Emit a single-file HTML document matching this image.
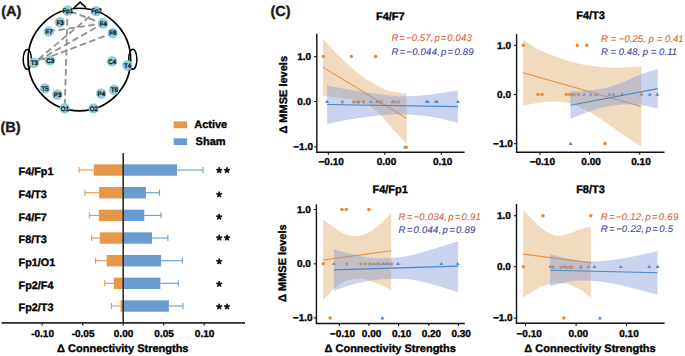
<!DOCTYPE html>
<html><head><meta charset="utf-8"><style>
html,body{margin:0;padding:0;background:#fff;width:685px;height:356px;overflow:hidden}
svg{display:block;font-family:"Liberation Sans", sans-serif;text-rendering:geometricPrecision}
</style></head><body>
<svg width="685" height="356" viewBox="0 0 685 356">
<rect width="685" height="356" fill="#fff"/>
<g>
<text x="1.20" y="15.60" font-size="14.6" font-weight="bold" font-style="normal" text-anchor="start" fill="#231815" stroke="#231815" stroke-width="0.35" >(A)</text>
<circle cx="79.35" cy="59.55" r="51.3" fill="none" stroke="#000" stroke-width="1.7"/>
<ellipse cx="27.3" cy="59.4" rx="4.1" ry="10" fill="none" stroke="#000" stroke-width="1.5"/>
<ellipse cx="132.8" cy="59.3" rx="4.1" ry="10" fill="none" stroke="#000" stroke-width="1.5"/>
<path d="M73.9 8.0 L80.1 2.1 L86.0 7.7" fill="none" stroke="#000" stroke-width="1.6" stroke-linejoin="miter"/>
<line x1="103.1" y1="23.5" x2="67.6" y2="10.5" stroke="#8f8f8f" stroke-width="1.8" stroke-dasharray="6.6,3.4" stroke-dashoffset="1.5"/>
<line x1="103.1" y1="23.5" x2="34.0" y2="62.8" stroke="#8f8f8f" stroke-width="1.8" stroke-dasharray="6.6,3.4" stroke-dashoffset="1.5"/>
<line x1="103.1" y1="23.5" x2="48.8" y2="31.4" stroke="#8f8f8f" stroke-width="1.8" stroke-dasharray="6.6,3.4" stroke-dashoffset="1.5"/>
<line x1="112.6" y1="33.1" x2="34.0" y2="62.8" stroke="#8f8f8f" stroke-width="1.8" stroke-dasharray="6.6,3.4" stroke-dashoffset="1.5"/>
<line x1="67.6" y1="10.5" x2="64.7" y2="108.2" stroke="#8f8f8f" stroke-width="1.8" stroke-dasharray="6.6,3.4" stroke-dashoffset="1.5"/>
<line x1="96.2" y1="11.1" x2="103.1" y2="23.5" stroke="#8f8f8f" stroke-width="1.8" stroke-dasharray="6.6,3.4" stroke-dashoffset="1.5"/>
<line x1="96.2" y1="11.1" x2="34.0" y2="62.8" stroke="#8f8f8f" stroke-width="1.8" stroke-dasharray="6.6,3.4" stroke-dashoffset="1.5"/>
<circle cx="67.6" cy="10.5" r="5.2" fill="#8FCDE0"/>
<text x="0.00" y="0.00" font-size="6.4" font-weight="normal" font-style="normal" text-anchor="middle" fill="#111" stroke="#111" stroke-width="0.35" transform="translate(67.90,12.80) scale(0.97,1)">Fp1</text>
<circle cx="96.2" cy="11.1" r="5.2" fill="#8FCDE0"/>
<text x="0.00" y="0.00" font-size="6.4" font-weight="normal" font-style="normal" text-anchor="middle" fill="#111" stroke="#111" stroke-width="0.35" transform="translate(96.50,13.40) scale(0.97,1)">Fp2</text>
<circle cx="59.9" cy="22.3" r="5.2" fill="#8FCDE0"/>
<text x="0.00" y="0.00" font-size="6.4" font-weight="normal" font-style="normal" text-anchor="middle" fill="#111" stroke="#111" stroke-width="0.35" transform="translate(60.20,24.60) scale(0.97,1)">F3</text>
<circle cx="103.1" cy="23.5" r="5.2" fill="#8FCDE0"/>
<text x="0.00" y="0.00" font-size="6.4" font-weight="normal" font-style="normal" text-anchor="middle" fill="#111" stroke="#111" stroke-width="0.35" transform="translate(103.40,25.80) scale(0.97,1)">F4</text>
<circle cx="48.8" cy="31.4" r="5.2" fill="#8FCDE0"/>
<text x="0.00" y="0.00" font-size="6.4" font-weight="normal" font-style="normal" text-anchor="middle" fill="#111" stroke="#111" stroke-width="0.35" transform="translate(49.10,33.70) scale(0.97,1)">F7</text>
<circle cx="112.6" cy="33.1" r="5.2" fill="#8FCDE0"/>
<text x="0.00" y="0.00" font-size="6.4" font-weight="normal" font-style="normal" text-anchor="middle" fill="#111" stroke="#111" stroke-width="0.35" transform="translate(112.90,35.40) scale(0.97,1)">F8</text>
<circle cx="34.0" cy="62.8" r="5.2" fill="#8FCDE0"/>
<text x="0.00" y="0.00" font-size="6.4" font-weight="normal" font-style="normal" text-anchor="middle" fill="#111" stroke="#111" stroke-width="0.35" transform="translate(34.30,65.10) scale(0.97,1)">T3</text>
<circle cx="49.9" cy="60.4" r="5.2" fill="#8FCDE0"/>
<text x="0.00" y="0.00" font-size="6.4" font-weight="normal" font-style="normal" text-anchor="middle" fill="#111" stroke="#111" stroke-width="0.35" transform="translate(50.20,62.70) scale(0.97,1)">C3</text>
<circle cx="112.0" cy="61.2" r="5.2" fill="#8FCDE0"/>
<text x="0.00" y="0.00" font-size="6.4" font-weight="normal" font-style="normal" text-anchor="middle" fill="#111" stroke="#111" stroke-width="0.35" transform="translate(112.30,63.50) scale(0.97,1)">C4</text>
<circle cx="127.3" cy="65.2" r="5.2" fill="#8FCDE0"/>
<text x="0.00" y="0.00" font-size="6.4" font-weight="normal" font-style="normal" text-anchor="middle" fill="#111" stroke="#111" stroke-width="0.35" transform="translate(127.60,67.50) scale(0.97,1)">T4</text>
<circle cx="44.8" cy="88.4" r="5.2" fill="#8FCDE0"/>
<text x="0.00" y="0.00" font-size="6.4" font-weight="normal" font-style="normal" text-anchor="middle" fill="#111" stroke="#111" stroke-width="0.35" transform="translate(45.10,90.70) scale(0.97,1)">T5</text>
<circle cx="57.3" cy="94.5" r="5.2" fill="#8FCDE0"/>
<text x="0.00" y="0.00" font-size="6.4" font-weight="normal" font-style="normal" text-anchor="middle" fill="#111" stroke="#111" stroke-width="0.35" transform="translate(57.60,96.80) scale(0.97,1)">P3</text>
<circle cx="101.1" cy="93.5" r="5.2" fill="#8FCDE0"/>
<text x="0.00" y="0.00" font-size="6.4" font-weight="normal" font-style="normal" text-anchor="middle" fill="#111" stroke="#111" stroke-width="0.35" transform="translate(101.40,95.80) scale(0.97,1)">P4</text>
<circle cx="114.0" cy="89.8" r="5.2" fill="#8FCDE0"/>
<text x="0.00" y="0.00" font-size="6.4" font-weight="normal" font-style="normal" text-anchor="middle" fill="#111" stroke="#111" stroke-width="0.35" transform="translate(114.30,92.10) scale(0.97,1)">T6</text>
<circle cx="64.7" cy="108.2" r="5.2" fill="#8FCDE0"/>
<text x="0.00" y="0.00" font-size="6.4" font-weight="normal" font-style="normal" text-anchor="middle" fill="#111" stroke="#111" stroke-width="0.35" transform="translate(65.00,110.50) scale(0.97,1)">O1</text>
<circle cx="93.5" cy="108.4" r="5.2" fill="#8FCDE0"/>
<text x="0.00" y="0.00" font-size="6.4" font-weight="normal" font-style="normal" text-anchor="middle" fill="#111" stroke="#111" stroke-width="0.35" transform="translate(93.80,110.70) scale(0.97,1)">O2</text>
</g>
<g>
<text x="0.40" y="131.90" font-size="14.6" font-weight="bold" font-style="normal" text-anchor="start" fill="#231815" stroke="#231815" stroke-width="0.35" >(B)</text>
<rect x="173.7" y="121.4" width="13.4" height="6.8" fill="#E5974A"/>
<rect x="173.7" y="138.3" width="13.4" height="6.8" fill="#6A9BD1"/>
<text x="194.20" y="128.20" font-size="11" font-weight="bold" font-style="normal" text-anchor="start" fill="#000" stroke="#000" stroke-width="0.35" >Active</text>
<text x="195.60" y="145.00" font-size="11" font-weight="bold" font-style="normal" text-anchor="start" fill="#000" stroke="#000" stroke-width="0.35" >Sham</text>
<line x1="79.1" y1="170.05" x2="93.7" y2="170.05" stroke="#E5974A" stroke-width="1.1"/>
<line x1="79.1" y1="167.05" x2="79.1" y2="173.05" stroke="#E5974A" stroke-width="1.1"/>
<line x1="177.0" y1="170.05" x2="203.0" y2="170.05" stroke="#6A9BD1" stroke-width="1.1"/>
<line x1="203.0" y1="167.05" x2="203.0" y2="173.05" stroke="#6A9BD1" stroke-width="1.1"/>
<rect x="93.7" y="164.35000000000002" width="29.5" height="11.4" fill="#E5974A"/>
<rect x="123.2" y="164.35000000000002" width="53.8" height="11.4" fill="#6A9BD1"/>
<text x="18.60" y="175.20" font-size="10.8" font-weight="bold" font-style="normal" text-anchor="start" fill="#000" stroke="#000" stroke-width="0.35" >F4/Fp1</text>
<path d="M219.20 170.30 L219.20 167.95 M219.20 170.30 L221.43 169.57 M219.20 170.30 L220.58 172.20 M219.20 170.30 L217.82 172.20 M219.20 170.30 L216.97 169.57 " stroke="#111" stroke-width="1.75" stroke-linecap="round" fill="none"/>
<path d="M227.00 170.30 L227.00 167.95 M227.00 170.30 L229.23 169.57 M227.00 170.30 L228.38 172.20 M227.00 170.30 L225.62 172.20 M227.00 170.30 L224.77 169.57 " stroke="#111" stroke-width="1.75" stroke-linecap="round" fill="none"/>
<line x1="85.0" y1="192.71" x2="99.1" y2="192.71" stroke="#E5974A" stroke-width="1.1"/>
<line x1="85.0" y1="189.71" x2="85.0" y2="195.71" stroke="#E5974A" stroke-width="1.1"/>
<line x1="146.0" y1="192.71" x2="159.5" y2="192.71" stroke="#6A9BD1" stroke-width="1.1"/>
<line x1="159.5" y1="189.71" x2="159.5" y2="195.71" stroke="#6A9BD1" stroke-width="1.1"/>
<rect x="99.1" y="187.01000000000002" width="24.10000000000001" height="11.4" fill="#E5974A"/>
<rect x="123.2" y="187.01000000000002" width="22.799999999999997" height="11.4" fill="#6A9BD1"/>
<text x="18.60" y="197.86" font-size="10.8" font-weight="bold" font-style="normal" text-anchor="start" fill="#000" stroke="#000" stroke-width="0.35" >F4/T3</text>
<path d="M219.20 194.50 L219.20 192.15 M219.20 194.50 L221.43 193.77 M219.20 194.50 L220.58 196.40 M219.20 194.50 L217.82 196.40 M219.20 194.50 L216.97 193.77 " stroke="#111" stroke-width="1.75" stroke-linecap="round" fill="none"/>
<line x1="89.3" y1="215.37" x2="98.9" y2="215.37" stroke="#E5974A" stroke-width="1.1"/>
<line x1="89.3" y1="212.37" x2="89.3" y2="218.37" stroke="#E5974A" stroke-width="1.1"/>
<line x1="144.3" y1="215.37" x2="161.1" y2="215.37" stroke="#6A9BD1" stroke-width="1.1"/>
<line x1="161.1" y1="212.37" x2="161.1" y2="218.37" stroke="#6A9BD1" stroke-width="1.1"/>
<rect x="98.9" y="209.67000000000002" width="24.299999999999997" height="11.4" fill="#E5974A"/>
<rect x="123.2" y="209.67000000000002" width="21.10000000000001" height="11.4" fill="#6A9BD1"/>
<text x="18.60" y="220.52" font-size="10.8" font-weight="bold" font-style="normal" text-anchor="start" fill="#000" stroke="#000" stroke-width="0.35" >F4/F7</text>
<path d="M219.20 216.90 L219.20 214.55 M219.20 216.90 L221.43 216.17 M219.20 216.90 L220.58 218.80 M219.20 216.90 L217.82 218.80 M219.20 216.90 L216.97 216.17 " stroke="#111" stroke-width="1.75" stroke-linecap="round" fill="none"/>
<line x1="91.6" y1="238.03000000000003" x2="99.7" y2="238.03000000000003" stroke="#E5974A" stroke-width="1.1"/>
<line x1="91.6" y1="235.03000000000003" x2="91.6" y2="241.03000000000003" stroke="#E5974A" stroke-width="1.1"/>
<line x1="152.0" y1="238.03000000000003" x2="167.9" y2="238.03000000000003" stroke="#6A9BD1" stroke-width="1.1"/>
<line x1="167.9" y1="235.03000000000003" x2="167.9" y2="241.03000000000003" stroke="#6A9BD1" stroke-width="1.1"/>
<rect x="99.7" y="232.33000000000004" width="23.5" height="11.4" fill="#E5974A"/>
<rect x="123.2" y="232.33000000000004" width="28.799999999999997" height="11.4" fill="#6A9BD1"/>
<text x="18.60" y="243.18" font-size="10.8" font-weight="bold" font-style="normal" text-anchor="start" fill="#000" stroke="#000" stroke-width="0.35" >F8/T3</text>
<path d="M219.20 237.80 L219.20 235.45 M219.20 237.80 L221.43 237.07 M219.20 237.80 L220.58 239.70 M219.20 237.80 L217.82 239.70 M219.20 237.80 L216.97 237.07 " stroke="#111" stroke-width="1.75" stroke-linecap="round" fill="none"/>
<path d="M227.00 237.80 L227.00 235.45 M227.00 237.80 L229.23 237.07 M227.00 237.80 L228.38 239.70 M227.00 237.80 L225.62 239.70 M227.00 237.80 L224.77 237.07 " stroke="#111" stroke-width="1.75" stroke-linecap="round" fill="none"/>
<line x1="95.5" y1="260.69" x2="106.7" y2="260.69" stroke="#E5974A" stroke-width="1.1"/>
<line x1="95.5" y1="257.69" x2="95.5" y2="263.69" stroke="#E5974A" stroke-width="1.1"/>
<line x1="161.1" y1="260.69" x2="182.4" y2="260.69" stroke="#6A9BD1" stroke-width="1.1"/>
<line x1="182.4" y1="257.69" x2="182.4" y2="263.69" stroke="#6A9BD1" stroke-width="1.1"/>
<rect x="106.7" y="254.99" width="16.5" height="11.4" fill="#E5974A"/>
<rect x="123.2" y="254.99" width="37.89999999999999" height="11.4" fill="#6A9BD1"/>
<text x="18.60" y="265.84" font-size="10.8" font-weight="bold" font-style="normal" text-anchor="start" fill="#000" stroke="#000" stroke-width="0.35" >Fp1/O1</text>
<path d="M219.20 261.50 L219.20 259.15 M219.20 261.50 L221.43 260.77 M219.20 261.50 L220.58 263.40 M219.20 261.50 L217.82 263.40 M219.20 261.50 L216.97 260.77 " stroke="#111" stroke-width="1.75" stroke-linecap="round" fill="none"/>
<line x1="104.8" y1="283.35" x2="113.8" y2="283.35" stroke="#E5974A" stroke-width="1.1"/>
<line x1="104.8" y1="280.35" x2="104.8" y2="286.35" stroke="#E5974A" stroke-width="1.1"/>
<line x1="160.4" y1="283.35" x2="178.3" y2="283.35" stroke="#6A9BD1" stroke-width="1.1"/>
<line x1="178.3" y1="280.35" x2="178.3" y2="286.35" stroke="#6A9BD1" stroke-width="1.1"/>
<rect x="113.8" y="277.65000000000003" width="9.400000000000006" height="11.4" fill="#E5974A"/>
<rect x="123.2" y="277.65000000000003" width="37.2" height="11.4" fill="#6A9BD1"/>
<text x="18.60" y="288.50" font-size="10.8" font-weight="bold" font-style="normal" text-anchor="start" fill="#000" stroke="#000" stroke-width="0.35" >Fp2/F4</text>
<path d="M219.20 284.10 L219.20 281.75 M219.20 284.10 L221.43 283.37 M219.20 284.10 L220.58 286.00 M219.20 284.10 L217.82 286.00 M219.20 284.10 L216.97 283.37 " stroke="#111" stroke-width="1.75" stroke-linecap="round" fill="none"/>
<line x1="111.5" y1="306.01" x2="120.5" y2="306.01" stroke="#E5974A" stroke-width="1.1"/>
<line x1="111.5" y1="303.01" x2="111.5" y2="309.01" stroke="#E5974A" stroke-width="1.1"/>
<line x1="168.9" y1="306.01" x2="183.0" y2="306.01" stroke="#6A9BD1" stroke-width="1.1"/>
<line x1="183.0" y1="303.01" x2="183.0" y2="309.01" stroke="#6A9BD1" stroke-width="1.1"/>
<rect x="120.5" y="300.31" width="2.700000000000003" height="11.4" fill="#E5974A"/>
<rect x="123.2" y="300.31" width="45.7" height="11.4" fill="#6A9BD1"/>
<text x="18.60" y="311.16" font-size="10.8" font-weight="bold" font-style="normal" text-anchor="start" fill="#000" stroke="#000" stroke-width="0.35" >Fp2/T3</text>
<path d="M219.20 306.70 L219.20 304.35 M219.20 306.70 L221.43 305.97 M219.20 306.70 L220.58 308.60 M219.20 306.70 L217.82 308.60 M219.20 306.70 L216.97 305.97 " stroke="#111" stroke-width="1.75" stroke-linecap="round" fill="none"/>
<path d="M227.00 306.70 L227.00 304.35 M227.00 306.70 L229.23 305.97 M227.00 306.70 L228.38 308.60 M227.00 306.70 L225.62 308.60 M227.00 306.70 L224.77 305.97 " stroke="#111" stroke-width="1.75" stroke-linecap="round" fill="none"/>
<line x1="123.2" y1="153" x2="123.2" y2="322.9" stroke="#222" stroke-width="1.5"/>
<line x1="1.5" y1="322.9" x2="245" y2="322.9" stroke="#2a2a2a" stroke-width="1.6"/>
<line x1="42.20" y1="322.9" x2="42.20" y2="325.6" stroke="#222" stroke-width="1.2"/>
<text x="42.60" y="336.90" font-size="10" font-weight="bold" font-style="normal" text-anchor="middle" fill="#000" stroke="#000" stroke-width="0.35" >-0.10</text>
<line x1="82.70" y1="322.9" x2="82.70" y2="325.6" stroke="#222" stroke-width="1.2"/>
<text x="83.10" y="336.90" font-size="10" font-weight="bold" font-style="normal" text-anchor="middle" fill="#000" stroke="#000" stroke-width="0.35" >-0.05</text>
<line x1="123.20" y1="322.9" x2="123.20" y2="325.6" stroke="#222" stroke-width="1.2"/>
<text x="123.60" y="336.90" font-size="10" font-weight="bold" font-style="normal" text-anchor="middle" fill="#000" stroke="#000" stroke-width="0.35" >0.00</text>
<line x1="163.70" y1="322.9" x2="163.70" y2="325.6" stroke="#222" stroke-width="1.2"/>
<text x="164.10" y="336.90" font-size="10" font-weight="bold" font-style="normal" text-anchor="middle" fill="#000" stroke="#000" stroke-width="0.35" >0.05</text>
<line x1="204.20" y1="322.9" x2="204.20" y2="325.6" stroke="#222" stroke-width="1.2"/>
<text x="204.60" y="336.90" font-size="10" font-weight="bold" font-style="normal" text-anchor="middle" fill="#000" stroke="#000" stroke-width="0.35" >0.10</text>
<text x="122.80" y="352.20" font-size="11" font-weight="bold" font-style="normal" text-anchor="middle" fill="#000" stroke="#000" stroke-width="0.35" >&#916; Connectivity Strengths</text>
</g>
<text x="270.40" y="15.60" font-size="14.6" font-weight="bold" font-style="normal" text-anchor="start" fill="#231815" stroke="#231815" stroke-width="0.35" >(C)</text>
<g>
<text x="390.30" y="19.50" font-size="11" font-weight="bold" font-style="normal" text-anchor="middle" fill="#000" stroke="#000" stroke-width="0.35" >F4/F7</text>
<path d="M327.10 99.70 L329.10 103.00 L325.10 103.00 Z" fill="#4A86C8"/>
<path d="M371.00 99.70 L373.00 103.00 L369.00 103.00 Z" fill="#4A86C8"/>
<path d="M376.80 99.70 L378.80 103.00 L374.80 103.00 Z" fill="#4A86C8"/>
<path d="M392.50 99.70 L394.50 103.00 L390.50 103.00 Z" fill="#4A86C8"/>
<path d="M426.60 99.70 L428.60 103.00 L424.60 103.00 Z" fill="#4A86C8"/>
<path d="M427.90 99.70 L429.90 103.00 L425.90 103.00 Z" fill="#4A86C8"/>
<path d="M435.80 99.70 L437.80 103.00 L433.80 103.00 Z" fill="#4A86C8"/>
<path d="M436.90 99.70 L438.90 103.00 L434.90 103.00 Z" fill="#4A86C8"/>
<path d="M457.90 99.70 L459.90 103.00 L455.90 103.00 Z" fill="#4A86C8"/>
<path d="M405.00 145.10 L407.00 148.40 L403.00 148.40 Z" fill="#4A86C8"/>
<circle cx="323.40" cy="56.60" r="1.75" fill="#E8892E"/>
<circle cx="351.30" cy="56.60" r="1.75" fill="#E8892E"/>
<circle cx="375.60" cy="56.60" r="1.75" fill="#E8892E"/>
<circle cx="342.40" cy="102.00" r="1.75" fill="#E8892E"/>
<circle cx="353.70" cy="102.00" r="1.75" fill="#E8892E"/>
<circle cx="357.20" cy="102.00" r="1.75" fill="#E8892E"/>
<circle cx="358.80" cy="102.00" r="1.75" fill="#E8892E"/>
<circle cx="363.50" cy="102.00" r="1.75" fill="#E8892E"/>
<circle cx="379.80" cy="102.00" r="1.75" fill="#E8892E"/>
<circle cx="381.30" cy="102.00" r="1.75" fill="#E8892E"/>
<circle cx="395.00" cy="102.00" r="1.75" fill="#E8892E"/>
<circle cx="398.60" cy="102.00" r="1.75" fill="#E8892E"/>
<circle cx="406.30" cy="147.20" r="1.75" fill="#E8892E"/>
<path d="M323.00 39.00 C324.37 40.48 328.17 44.77 331.20 47.90 C334.23 51.03 337.88 54.60 341.20 57.80 C344.52 61.00 347.80 64.17 351.10 67.10 C354.40 70.03 357.68 72.92 361.00 75.40 C364.32 77.88 367.68 79.97 371.00 82.00 C374.32 84.03 377.60 86.05 380.90 87.60 C384.20 89.15 386.52 90.30 390.80 91.30 C395.08 92.30 403.97 93.22 406.60 93.60 L406.60 144.20 C404.93 142.38 399.43 136.43 396.60 133.30 C393.77 130.17 391.63 127.73 389.60 125.40 C387.57 123.07 386.13 121.18 384.40 119.30 C382.67 117.42 381.23 115.98 379.20 114.10 C377.17 112.22 374.82 109.73 372.20 108.00 C369.58 106.27 366.40 105.00 363.50 103.70 C360.60 102.40 359.15 101.22 354.80 100.20 C350.45 99.18 342.70 98.33 337.40 97.60 C332.10 96.87 325.40 96.10 323.00 95.80 Z" fill="#D9A45C" fill-opacity="0.40"/>
<line x1="323" y1="67.1" x2="406.6" y2="118.4" stroke="#E38E40" stroke-width="1.1"/>
<path d="M327.10 85.50 C331.37 86.28 343.33 88.67 352.70 90.20 C362.07 91.73 374.12 93.68 383.30 94.70 C392.48 95.72 399.28 96.43 407.80 96.30 C416.32 96.17 426.05 94.85 434.40 93.90 C442.75 92.95 453.98 91.15 457.90 90.60 L457.90 122.90 C453.98 121.97 442.75 118.70 434.40 117.30 C426.05 115.90 416.32 114.88 407.80 114.50 C399.28 114.12 392.48 114.25 383.30 115.00 C374.12 115.75 362.07 117.52 352.70 119.00 C343.33 120.48 331.37 123.08 327.10 123.90 Z" fill="#7B93D8" fill-opacity="0.40"/>
<line x1="327.1" y1="104.5" x2="457.9" y2="106.6" stroke="#4A86C8" stroke-width="1.1"/>
<line x1="316.8" y1="33.8" x2="316.8" y2="152.2" stroke="#111" stroke-width="1.4"/>
<line x1="316.1" y1="152.2" x2="464.6" y2="152.2" stroke="#111" stroke-width="1.4"/>
<line x1="314.2" y1="56.6" x2="316.8" y2="56.6" stroke="#111" stroke-width="1.1"/>
<text x="311.20" y="59.90" font-size="10" font-weight="bold" font-style="normal" text-anchor="end" fill="#000" stroke="#000" stroke-width="0.35" >1.0</text>
<line x1="314.2" y1="101.5" x2="316.8" y2="101.5" stroke="#111" stroke-width="1.1"/>
<text x="311.20" y="104.80" font-size="10" font-weight="bold" font-style="normal" text-anchor="end" fill="#000" stroke="#000" stroke-width="0.35" >0.0</text>
<line x1="314.2" y1="146.8" x2="316.8" y2="146.8" stroke="#111" stroke-width="1.1"/>
<text x="313.00" y="150.10" font-size="10" font-weight="bold" font-style="normal" text-anchor="end" fill="#000" stroke="#000" stroke-width="0.35" >&#8722;1.0</text>
<line x1="328.4" y1="152.2" x2="328.4" y2="154.79999999999998" stroke="#111" stroke-width="1.1"/>
<text x="331.20" y="165.40" font-size="10" font-weight="bold" font-style="normal" text-anchor="middle" fill="#000" stroke="#000" stroke-width="0.35" >&#8722;0.10</text>
<line x1="384.8" y1="152.2" x2="384.8" y2="154.79999999999998" stroke="#111" stroke-width="1.1"/>
<text x="386.50" y="165.40" font-size="10" font-weight="bold" font-style="normal" text-anchor="middle" fill="#000" stroke="#000" stroke-width="0.35" >0.00</text>
<line x1="441.4" y1="152.2" x2="441.4" y2="154.79999999999998" stroke="#111" stroke-width="1.1"/>
<text x="442.70" y="165.40" font-size="10" font-weight="bold" font-style="normal" text-anchor="middle" fill="#000" stroke="#000" stroke-width="0.35" >0.10</text>
<text x="391.40" y="41.30" font-size="9.6" font-weight="normal" font-style="italic" text-anchor="start" fill="#E05A2E" stroke="#E05A2E" stroke-width="0.08" textLength="80.4" lengthAdjust="spacing">R&#8202;=&#8202;&#8722;0.57,&#8202;p&#8202;=&#8202;0.043</text>
<text x="391.40" y="54.60" font-size="9.6" font-weight="normal" font-style="italic" text-anchor="start" fill="#40409E" stroke="#40409E" stroke-width="0.08" textLength="82.3" lengthAdjust="spacing">R&#8202;=&#8202;&#8722;0.044,&#8202;p&#8202;=&#8202;0.89</text>
</g>
<g>
<text x="590.60" y="19.30" font-size="11" font-weight="bold" font-style="normal" text-anchor="middle" fill="#000" stroke="#000" stroke-width="0.35" >F4/T3</text>
<path d="M572.30 92.50 L574.30 95.80 L570.30 95.80 Z" fill="#4A86C8"/>
<path d="M584.10 92.50 L586.10 95.80 L582.10 95.80 Z" fill="#4A86C8"/>
<path d="M590.80 92.50 L592.80 95.80 L588.80 95.80 Z" fill="#4A86C8"/>
<path d="M595.90 92.50 L597.90 95.80 L593.90 95.80 Z" fill="#4A86C8"/>
<path d="M609.40 92.50 L611.40 95.80 L607.40 95.80 Z" fill="#4A86C8"/>
<path d="M613.40 92.50 L615.40 95.80 L611.40 95.80 Z" fill="#4A86C8"/>
<path d="M622.20 92.50 L624.20 95.80 L620.20 95.80 Z" fill="#4A86C8"/>
<path d="M649.80 92.50 L651.80 95.80 L647.80 95.80 Z" fill="#4A86C8"/>
<path d="M657.20 92.50 L659.20 95.80 L655.20 95.80 Z" fill="#4A86C8"/>
<path d="M570.60 141.70 L572.60 145.00 L568.60 145.00 Z" fill="#4A86C8"/>
<circle cx="523.40" cy="45.30" r="1.75" fill="#E8892E"/>
<circle cx="577.40" cy="45.30" r="1.75" fill="#E8892E"/>
<circle cx="586.80" cy="45.30" r="1.75" fill="#E8892E"/>
<circle cx="537.90" cy="94.60" r="1.75" fill="#E8892E"/>
<circle cx="542.00" cy="94.60" r="1.75" fill="#E8892E"/>
<circle cx="566.20" cy="94.60" r="1.75" fill="#E8892E"/>
<circle cx="569.60" cy="94.60" r="1.75" fill="#E8892E"/>
<circle cx="574.00" cy="94.60" r="1.75" fill="#E8892E"/>
<circle cx="578.40" cy="94.60" r="1.75" fill="#E8892E"/>
<circle cx="596.90" cy="94.60" r="1.75" fill="#E8892E"/>
<circle cx="641.40" cy="94.60" r="1.75" fill="#E8892E"/>
<circle cx="605.00" cy="143.60" r="1.75" fill="#E8892E"/>
<path d="M523.10 39.70 C525.62 41.28 533.43 46.67 538.20 49.20 C542.97 51.73 546.65 52.95 551.70 54.90 C556.75 56.85 562.88 59.22 568.50 60.90 C574.12 62.58 579.78 63.98 585.40 65.00 C591.02 66.02 596.60 66.55 602.20 67.00 C607.80 67.45 612.48 67.77 619.00 67.70 C625.52 67.63 637.58 66.78 641.30 66.60 L641.30 146.80 C637.58 144.28 625.52 136.18 619.00 131.70 C612.48 127.22 607.80 123.55 602.20 119.90 C596.60 116.25 591.02 112.62 585.40 109.80 C579.78 106.98 574.12 104.40 568.50 103.00 C562.88 101.60 556.75 101.40 551.70 101.40 C546.65 101.40 542.97 102.33 538.20 103.00 C533.43 103.67 525.62 105.00 523.10 105.40 Z" fill="#D9A45C" fill-opacity="0.40"/>
<line x1="523.1" y1="72.7" x2="641.3" y2="106.5" stroke="#E38E40" stroke-width="1.1"/>
<path d="M570.50 91.40 C572.62 91.33 578.03 91.43 583.20 91.00 C588.37 90.57 595.42 90.02 601.50 88.80 C607.58 87.58 613.62 85.92 619.70 83.70 C625.78 81.48 631.67 77.98 638.00 75.50 C644.33 73.02 654.42 69.92 657.70 68.80 L657.70 108.40 C654.42 107.78 644.33 105.32 638.00 104.70 C631.67 104.08 625.78 104.18 619.70 104.70 C613.62 105.22 607.58 106.28 601.50 107.80 C595.42 109.32 588.37 111.97 583.20 113.80 C578.03 115.63 572.62 117.97 570.50 118.80 Z" fill="#7B93D8" fill-opacity="0.40"/>
<line x1="570.5" y1="105.3" x2="657.7" y2="88.6" stroke="#4A86C8" stroke-width="1.1"/>
<line x1="516.6" y1="34.2" x2="516.6" y2="152.2" stroke="#111" stroke-width="1.4"/>
<line x1="515.9" y1="152.2" x2="664.5" y2="152.2" stroke="#111" stroke-width="1.4"/>
<line x1="514.0" y1="45.3" x2="516.6" y2="45.3" stroke="#111" stroke-width="1.1"/>
<text x="511.00" y="48.60" font-size="10" font-weight="bold" font-style="normal" text-anchor="end" fill="#000" stroke="#000" stroke-width="0.35" >1.0</text>
<line x1="514.0" y1="94.5" x2="516.6" y2="94.5" stroke="#111" stroke-width="1.1"/>
<text x="511.00" y="97.80" font-size="10" font-weight="bold" font-style="normal" text-anchor="end" fill="#000" stroke="#000" stroke-width="0.35" >0.0</text>
<line x1="514.0" y1="143.7" x2="516.6" y2="143.7" stroke="#111" stroke-width="1.1"/>
<text x="512.80" y="147.00" font-size="10" font-weight="bold" font-style="normal" text-anchor="end" fill="#000" stroke="#000" stroke-width="0.35" >&#8722;1.0</text>
<line x1="540.0" y1="152.2" x2="540.0" y2="154.79999999999998" stroke="#111" stroke-width="1.1"/>
<text x="542.30" y="165.40" font-size="10" font-weight="bold" font-style="normal" text-anchor="middle" fill="#000" stroke="#000" stroke-width="0.35" >&#8722;0.10</text>
<line x1="589.6" y1="152.2" x2="589.6" y2="154.79999999999998" stroke="#111" stroke-width="1.1"/>
<text x="591.10" y="165.40" font-size="10" font-weight="bold" font-style="normal" text-anchor="middle" fill="#000" stroke="#000" stroke-width="0.35" >0.00</text>
<line x1="639.7" y1="152.2" x2="639.7" y2="154.79999999999998" stroke="#111" stroke-width="1.1"/>
<text x="641.00" y="165.40" font-size="10" font-weight="bold" font-style="normal" text-anchor="middle" fill="#000" stroke="#000" stroke-width="0.35" >0.10</text>
<text x="600.90" y="42.10" font-size="9.6" font-weight="normal" font-style="italic" text-anchor="start" fill="#E05A2E" stroke="#E05A2E" stroke-width="0.08" textLength="82.8" lengthAdjust="spacing">R = &#8722;0.25, p = 0.41</text>
<text x="600.90" y="54.60" font-size="9.6" font-weight="normal" font-style="italic" text-anchor="start" fill="#40409E" stroke="#40409E" stroke-width="0.08" textLength="76.2" lengthAdjust="spacing">R = 0.48, p = 0.11</text>
</g>
<g>
<text x="390.20" y="192.80" font-size="11" font-weight="bold" font-style="normal" text-anchor="middle" fill="#000" stroke="#000" stroke-width="0.35" >F4/Fp1</text>
<path d="M333.90 261.70 L335.90 265.00 L331.90 265.00 Z" fill="#4A86C8"/>
<path d="M373.40 261.70 L375.40 265.00 L371.40 265.00 Z" fill="#4A86C8"/>
<path d="M379.30 261.70 L381.30 265.00 L377.30 265.00 Z" fill="#4A86C8"/>
<path d="M383.20 261.70 L385.20 265.00 L381.20 265.00 Z" fill="#4A86C8"/>
<path d="M385.80 261.70 L387.80 265.00 L383.80 265.00 Z" fill="#4A86C8"/>
<path d="M388.30 261.70 L390.30 265.00 L386.30 265.00 Z" fill="#4A86C8"/>
<path d="M398.00 261.70 L400.00 265.00 L396.00 265.00 Z" fill="#4A86C8"/>
<path d="M441.40 261.70 L443.40 265.00 L439.40 265.00 Z" fill="#4A86C8"/>
<path d="M457.70 261.70 L459.70 265.00 L455.70 265.00 Z" fill="#4A86C8"/>
<path d="M382.40 316.10 L384.40 319.40 L380.40 319.40 Z" fill="#4A86C8"/>
<circle cx="323.40" cy="263.80" r="1.75" fill="#E8892E"/>
<circle cx="346.80" cy="264.00" r="1.75" fill="#E8892E"/>
<circle cx="361.10" cy="264.00" r="1.75" fill="#E8892E"/>
<circle cx="365.50" cy="264.00" r="1.75" fill="#E8892E"/>
<circle cx="369.80" cy="264.00" r="1.75" fill="#E8892E"/>
<circle cx="376.90" cy="264.00" r="1.75" fill="#E8892E"/>
<circle cx="391.50" cy="264.00" r="1.75" fill="#E8892E"/>
<circle cx="342.00" cy="209.40" r="1.75" fill="#E8892E"/>
<circle cx="346.30" cy="209.40" r="1.75" fill="#E8892E"/>
<circle cx="368.90" cy="209.40" r="1.75" fill="#E8892E"/>
<circle cx="330.20" cy="318.00" r="1.75" fill="#E8892E"/>
<path d="M323.10 219.60 C324.58 220.67 329.10 223.98 332.00 226.00 C334.90 228.02 337.68 230.15 340.50 231.70 C343.32 233.25 346.33 234.55 348.90 235.30 C351.47 236.05 353.33 236.33 355.90 236.20 C358.47 236.07 361.27 235.72 364.30 234.50 C367.33 233.28 370.82 231.25 374.10 228.90 C377.38 226.55 381.15 223.07 384.00 220.40 C386.85 217.73 390.00 214.15 391.20 212.90 L391.20 290.20 C390.00 289.57 386.85 287.73 384.00 286.40 C381.15 285.07 377.15 283.37 374.10 282.20 C371.05 281.03 368.50 280.02 365.70 279.40 C362.90 278.78 360.10 278.37 357.30 278.50 C354.50 278.63 351.70 279.35 348.90 280.20 C346.10 281.05 343.32 281.87 340.50 283.60 C337.68 285.33 334.90 287.80 332.00 290.60 C329.10 293.40 324.58 298.77 323.10 300.40 Z" fill="#D9A45C" fill-opacity="0.40"/>
<line x1="323.1" y1="260" x2="391.2" y2="250.8" stroke="#E38E40" stroke-width="1.1"/>
<path d="M333.90 249.20 C336.53 249.95 343.78 252.28 349.70 253.70 C355.62 255.12 362.83 256.93 369.40 257.70 C375.97 258.47 382.53 258.63 389.10 258.30 C395.67 257.97 402.23 257.02 408.80 255.70 C415.37 254.38 420.28 252.80 428.50 250.40 C436.72 248.00 453.17 242.82 458.10 241.30 L458.10 292.20 C453.17 290.72 436.72 285.45 428.50 283.30 C420.28 281.15 415.37 280.05 408.80 279.30 C402.23 278.55 395.67 278.57 389.10 278.80 C382.53 279.03 375.97 279.62 369.40 280.70 C362.83 281.78 355.62 283.55 349.70 285.30 C343.78 287.05 336.53 290.22 333.90 291.20 Z" fill="#7B93D8" fill-opacity="0.40"/>
<line x1="333.9" y1="269.9" x2="458.1" y2="266.1" stroke="#4A86C8" stroke-width="1.1"/>
<line x1="316.4" y1="204.4" x2="316.4" y2="323.5" stroke="#111" stroke-width="1.4"/>
<line x1="315.7" y1="323.5" x2="464.8" y2="323.5" stroke="#111" stroke-width="1.4"/>
<line x1="313.79999999999995" y1="209.5" x2="316.4" y2="209.5" stroke="#111" stroke-width="1.1"/>
<text x="310.80" y="212.80" font-size="10" font-weight="bold" font-style="normal" text-anchor="end" fill="#000" stroke="#000" stroke-width="0.35" >1.0</text>
<line x1="313.79999999999995" y1="263.8" x2="316.4" y2="263.8" stroke="#111" stroke-width="1.1"/>
<text x="310.80" y="267.10" font-size="10" font-weight="bold" font-style="normal" text-anchor="end" fill="#000" stroke="#000" stroke-width="0.35" >0.0</text>
<line x1="313.79999999999995" y1="317.8" x2="316.4" y2="317.8" stroke="#111" stroke-width="1.1"/>
<text x="312.60" y="321.10" font-size="10" font-weight="bold" font-style="normal" text-anchor="end" fill="#000" stroke="#000" stroke-width="0.35" >&#8722;1.0</text>
<line x1="339.3" y1="323.5" x2="339.3" y2="326.1" stroke="#111" stroke-width="1.1"/>
<text x="342.50" y="336.70" font-size="10" font-weight="bold" font-style="normal" text-anchor="middle" fill="#000" stroke="#000" stroke-width="0.35" >&#8722;0.10</text>
<line x1="369.0" y1="323.5" x2="369.0" y2="326.1" stroke="#111" stroke-width="1.1"/>
<text x="371.60" y="336.70" font-size="10" font-weight="bold" font-style="normal" text-anchor="middle" fill="#000" stroke="#000" stroke-width="0.35" >0.00</text>
<line x1="398.6" y1="323.5" x2="398.6" y2="326.1" stroke="#111" stroke-width="1.1"/>
<text x="401.70" y="336.70" font-size="10" font-weight="bold" font-style="normal" text-anchor="middle" fill="#000" stroke="#000" stroke-width="0.35" >0.10</text>
<line x1="428.8" y1="323.5" x2="428.8" y2="326.1" stroke="#111" stroke-width="1.1"/>
<text x="431.40" y="336.70" font-size="10" font-weight="bold" font-style="normal" text-anchor="middle" fill="#000" stroke="#000" stroke-width="0.35" >0.20</text>
<line x1="458.4" y1="323.5" x2="458.4" y2="326.1" stroke="#111" stroke-width="1.1"/>
<text x="461.20" y="336.70" font-size="10" font-weight="bold" font-style="normal" text-anchor="middle" fill="#000" stroke="#000" stroke-width="0.35" >0.30</text>
<text x="398.50" y="219.70" font-size="9.6" font-weight="normal" font-style="italic" text-anchor="start" fill="#E05A2E" stroke="#E05A2E" stroke-width="0.08" textLength="82.3" lengthAdjust="spacing">R&#8202;=&#8202;&#8722;0.034,&#8202;p&#8202;=&#8202;0.91</text>
<text x="398.50" y="232.90" font-size="9.6" font-weight="normal" font-style="italic" text-anchor="start" fill="#40409E" stroke="#40409E" stroke-width="0.08" textLength="76.9" lengthAdjust="spacing">R&#8202;=&#8202;0.044,&#8202;p&#8202;=&#8202;0.89</text>
</g>
<g>
<text x="590.50" y="192.90" font-size="11" font-weight="bold" font-style="normal" text-anchor="middle" fill="#000" stroke="#000" stroke-width="0.35" >F8/T3</text>
<path d="M550.30 264.70 L552.30 268.00 L548.30 268.00 Z" fill="#4A86C8"/>
<path d="M564.30 264.70 L566.30 268.00 L562.30 268.00 Z" fill="#4A86C8"/>
<path d="M580.90 264.70 L582.90 268.00 L578.90 268.00 Z" fill="#4A86C8"/>
<path d="M588.40 264.70 L590.40 268.00 L586.40 268.00 Z" fill="#4A86C8"/>
<path d="M594.40 264.70 L596.40 268.00 L592.40 268.00 Z" fill="#4A86C8"/>
<path d="M620.70 264.70 L622.70 268.00 L618.70 268.00 Z" fill="#4A86C8"/>
<path d="M649.20 264.70 L651.20 268.00 L647.20 268.00 Z" fill="#4A86C8"/>
<path d="M657.60 264.70 L659.60 268.00 L655.60 268.00 Z" fill="#4A86C8"/>
<path d="M599.90 316.10 L601.90 319.40 L597.90 319.40 Z" fill="#4A86C8"/>
<circle cx="523.40" cy="266.80" r="1.75" fill="#E8892E"/>
<circle cx="553.20" cy="267.20" r="1.75" fill="#E8892E"/>
<circle cx="561.10" cy="267.20" r="1.75" fill="#E8892E"/>
<circle cx="566.40" cy="267.20" r="1.75" fill="#E8892E"/>
<circle cx="569.90" cy="267.20" r="1.75" fill="#E8892E"/>
<circle cx="571.60" cy="267.20" r="1.75" fill="#E8892E"/>
<circle cx="580.90" cy="267.20" r="1.75" fill="#E8892E"/>
<circle cx="543.00" cy="215.80" r="1.75" fill="#E8892E"/>
<circle cx="590.80" cy="215.80" r="1.75" fill="#E8892E"/>
<circle cx="563.90" cy="318.00" r="1.75" fill="#E8892E"/>
<path d="M523.10 210.10 C524.58 211.58 529.10 216.10 532.00 219.00 C534.90 221.90 537.68 225.15 540.50 227.50 C543.32 229.85 546.10 231.70 548.90 233.10 C551.70 234.50 554.50 235.67 557.30 235.90 C560.10 236.13 562.90 235.20 565.70 234.50 C568.50 233.80 571.05 232.78 574.10 231.70 C577.15 230.62 581.20 228.80 584.00 228.00 C586.80 227.20 589.75 227.08 590.90 226.90 L590.90 297.80 C589.75 296.83 586.80 293.90 584.00 292.00 C581.20 290.10 577.15 287.80 574.10 286.40 C571.05 285.00 568.50 284.17 565.70 283.60 C562.90 283.03 560.10 282.90 557.30 283.00 C554.50 283.10 551.70 283.53 548.90 284.20 C546.10 284.87 543.32 285.70 540.50 287.00 C537.68 288.30 534.90 290.23 532.00 292.00 C529.10 293.77 524.58 296.67 523.10 297.60 Z" fill="#D9A45C" fill-opacity="0.40"/>
<line x1="523.1" y1="254.1" x2="590.9" y2="262.8" stroke="#E38E40" stroke-width="1.1"/>
<path d="M550.30 254.00 C552.33 254.58 557.55 256.38 562.50 257.50 C567.45 258.62 574.15 260.05 580.00 260.70 C585.85 261.35 591.75 261.58 597.60 261.40 C603.45 261.22 609.27 260.40 615.10 259.60 C620.93 258.80 625.52 258.03 632.60 256.60 C639.68 255.17 653.43 251.93 657.60 251.00 L657.60 294.70 C653.43 293.62 639.68 289.97 632.60 288.20 C625.52 286.43 620.93 285.27 615.10 284.10 C609.27 282.93 603.45 281.78 597.60 281.20 C591.75 280.62 585.85 280.32 580.00 280.60 C574.15 280.88 567.45 281.93 562.50 282.90 C557.55 283.87 552.33 285.82 550.30 286.40 Z" fill="#7B93D8" fill-opacity="0.40"/>
<line x1="550.3" y1="270.3" x2="657.6" y2="272.8" stroke="#4A86C8" stroke-width="1.1"/>
<line x1="516.5" y1="204.0" x2="516.5" y2="323.3" stroke="#111" stroke-width="1.4"/>
<line x1="515.8" y1="323.3" x2="664.6" y2="323.3" stroke="#111" stroke-width="1.4"/>
<line x1="513.9" y1="215.7" x2="516.5" y2="215.7" stroke="#111" stroke-width="1.1"/>
<text x="510.90" y="219.00" font-size="10" font-weight="bold" font-style="normal" text-anchor="end" fill="#000" stroke="#000" stroke-width="0.35" >1.0</text>
<line x1="513.9" y1="266.7" x2="516.5" y2="266.7" stroke="#111" stroke-width="1.1"/>
<text x="510.90" y="270.00" font-size="10" font-weight="bold" font-style="normal" text-anchor="end" fill="#000" stroke="#000" stroke-width="0.35" >0.0</text>
<line x1="513.9" y1="318.1" x2="516.5" y2="318.1" stroke="#111" stroke-width="1.1"/>
<text x="512.70" y="321.40" font-size="10" font-weight="bold" font-style="normal" text-anchor="end" fill="#000" stroke="#000" stroke-width="0.35" >&#8722;1.0</text>
<line x1="525.5" y1="323.3" x2="525.5" y2="325.90000000000003" stroke="#111" stroke-width="1.1"/>
<text x="529.20" y="336.50" font-size="10" font-weight="bold" font-style="normal" text-anchor="middle" fill="#000" stroke="#000" stroke-width="0.35" >&#8722;0.10</text>
<line x1="576.1" y1="323.3" x2="576.1" y2="325.90000000000003" stroke="#111" stroke-width="1.1"/>
<text x="578.30" y="336.50" font-size="10" font-weight="bold" font-style="normal" text-anchor="middle" fill="#000" stroke="#000" stroke-width="0.35" >0.00</text>
<line x1="626.5" y1="323.3" x2="626.5" y2="325.90000000000003" stroke="#111" stroke-width="1.1"/>
<text x="629.00" y="336.50" font-size="10" font-weight="bold" font-style="normal" text-anchor="middle" fill="#000" stroke="#000" stroke-width="0.35" >0.10</text>
<text x="600.70" y="219.70" font-size="9.6" font-weight="normal" font-style="italic" text-anchor="start" fill="#E05A2E" stroke="#E05A2E" stroke-width="0.08" textLength="77.6" lengthAdjust="spacing">R&#8202;=&#8202;&#8722;0.12,&#8202;p&#8202;=&#8202;0.69</text>
<text x="600.70" y="231.80" font-size="9.6" font-weight="normal" font-style="italic" text-anchor="start" fill="#40409E" stroke="#40409E" stroke-width="0.08" textLength="72.5" lengthAdjust="spacing">R&#8202;=&#8202;&#8722;0.22,&#8202;p&#8202;=&#8202;0.5</text>
</g>
<text x="0.00" y="0.00" font-size="11" font-weight="bold" font-style="normal" text-anchor="middle" fill="#000" stroke="#000" stroke-width="0.35" transform="translate(286.6,94.8) rotate(-90)">&#916; MMSE levels</text>
<text x="0.00" y="0.00" font-size="11" font-weight="bold" font-style="normal" text-anchor="middle" fill="#000" stroke="#000" stroke-width="0.35" transform="translate(286.2,263.2) rotate(-90)">&#916; MMSE levels</text>
<text x="390.20" y="352.20" font-size="11" font-weight="bold" font-style="normal" text-anchor="middle" fill="#000" stroke="#000" stroke-width="0.35" >&#916; Connectivity Strengths</text>
<text x="590.00" y="352.20" font-size="11" font-weight="bold" font-style="normal" text-anchor="middle" fill="#000" stroke="#000" stroke-width="0.35" >&#916; Connectivity Strengths</text>
</svg>
</body></html>
